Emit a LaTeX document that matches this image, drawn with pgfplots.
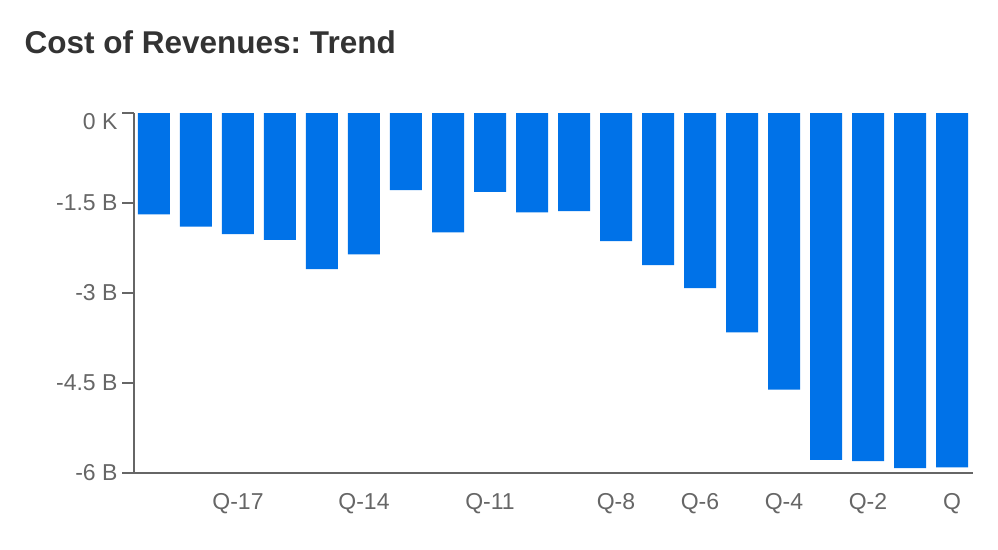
\documentclass[border=0pt]{standalone}
\usepackage{pgfplots}
\pgfplotsset{compat=1.18}
\usepackage{fontspec}
\setmainfont{Liberation Sans}
\frenchspacing

\definecolor{barblue}{RGB}{0,114,232}
\definecolor{axisgray}{RGB}{102,102,102}
\definecolor{titlegray}{RGB}{51,51,51}

\pgfplotstableread{
idx val
0  -1.69
1  -1.895
2  -2.02
3  -2.113
4  -2.60
5  -2.357
6  -1.284
7  -1.99
8  -1.313
9  -1.657
10 -1.635
11 -2.134
12 -2.535
13 -2.92
14 -3.655
15 -4.61
16 -5.78
17 -5.80
18 -5.92
19 -5.905
}\costdata

\begin{document}
\begin{tikzpicture}[x=1pt,y=1pt]
\useasboundingbox[fill=white] (0,0) rectangle (998,549);
\node[anchor=base west, inner sep=0, text=titlegray,
  font=\fontsize{31.5}{36}\selectfont\bfseries] at (24.5,495.7) {Cost of Revenues: Trend};
\begin{axis}[
  at={(134pt,76pt)}, anchor=south west,
  scale only axis, width=839pt, height=360pt,
  xmin=-0.476, xmax=19.5,
  ymin=-6, ymax=0,
  axis x line*=bottom, axis y line*=left,
  axis line style={axisgray, line width=1.3pt},
  ytick={-6,-4.5,-3,-1.5},
  yticklabels={-6 B,-4.5 B,-3 B,-1.5 B},
  extra y ticks={0},
  extra y tick labels={0 K},
  extra y tick style={
    tick style={axisgray, line width=1.3pt},
    yticklabel style={yshift=-9pt}},
  xtick={2,5,8,11,13,15,17,19},
  xticklabels={Q-17,Q-14,Q-11,Q-8,Q-6,Q-4,Q-2,Q},
  tick align=outside,
  ytick style={axisgray, line width=1.3pt},
  major tick length=12pt,
  xtick style={draw=none},
  ticklabel style={text=axisgray, font=\fontsize{23}{27}\selectfont},
  yticklabel style={xshift=-1pt},
  xticklabel style={yshift=-5pt},
  clip=false,
]
\addplot[ybar, bar width=32pt, fill=barblue, draw=none] table[x=idx,y=val] {\costdata};
\end{axis}
\end{tikzpicture}
\end{document}
